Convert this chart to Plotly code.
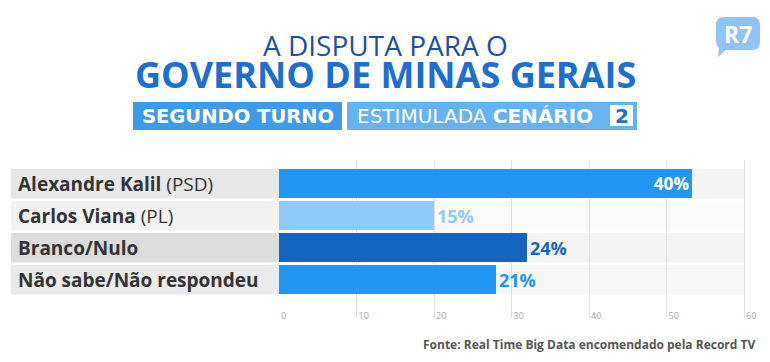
import plotly.graph_objects as go

categories = ["Alexandre Kalil", "Carlos Viana", "Branco/Nulo", "Não sabe/Não respondeu"]
parties = [" (PSD)", " (PL)", "", ""]
values = [40, 15, 24, 21]
bar_colors = ["#2196f3", "#90caf9", "#1565c0", "#2196f3"]
label_colors = ["#ffffff", "#90caf9", "#1565c0", "#2196f3"]
text_positions = ["inside", "outside", "outside", "outside"]
row_bg = ["#f5f5f5", "#fafafa", "#f4f4f4", "#f7f7f7"]
label_bg = ["#e7e7e7", "#f2f2f2", "#dcdcdc", "#eaeaea"]
axis_ticks = [0, 10, 20, 30, 40, 50, 60]

W, H = 770, 362
FONT = "Open Sans"
BADGE_FONT = "DejaVu Sans"

def px(x):
    return x / W

def py(y):
    return 1 - y / H

positions = list(range(len(categories)))

# axis geometry: 0 at 279px, 60 at 744px; domain extended to 762px so the last tick label shows
X0_PX, X60_PX, XEND_PX = 279, 744, 762
scale_max = 60 * (XEND_PX - X0_PX) / (X60_PX - X0_PX)
bar_max = 45 * (XEND_PX - X0_PX) / (X60_PX - X0_PX)

fig = go.Figure()
fig.add_trace(go.Bar(
    x=values, y=positions, orientation="h", xaxis="x2", yaxis="y",
    marker=dict(color=bar_colors, line=dict(width=0)),
    width=0.92,
    text=[f"{v}%" for v in values],
    textposition=text_positions,
    insidetextanchor="end",
    textfont=dict(color=label_colors, size=18, family=FONT, weight=700),
    cliponaxis=False,
    hoverinfo="skip",
))

shapes = []
annotations = []
for i, cat in enumerate(categories):
    shapes.append(dict(type="rect", xref="x", yref="y", x0=0, x1=60,
                       y0=i - 0.46, y1=i + 0.46, fillcolor=row_bg[i],
                       line=dict(width=0), layer="below"))
    shapes.append(dict(type="rect", xref="paper", yref="y", x0=px(11), x1=px(279),
                       y0=i - 0.46, y1=i + 0.46, fillcolor=label_bg[i],
                       line=dict(width=0), layer="below"))
    annotations.append(dict(xref="paper", yref="y", x=px(16), y=i,
                            text=f"<b>{cat}</b>{parties[i]}", showarrow=False,
                            xanchor="left", yanchor="middle",
                            font=dict(family=FONT, size=19, color="#333333")))

# Title
annotations.append(dict(xref="paper", yref="paper", x=px(385), y=py(45),
                        text="A DISPUTA PARA O", showarrow=False,
                        xanchor="center", yanchor="middle", height=26,
                        font=dict(family=FONT, size=28, color="#1d4fa3")))
annotations.append(dict(xref="paper", yref="paper", x=px(385), y=py(74),
                        text="<b>GOVERNO DE MINAS GERAIS</b>", showarrow=False,
                        xanchor="center", yanchor="middle", height=30,
                        font=dict(family=FONT, size=36, color="#1b6fd1")))

# Badges
shapes.append(dict(type="rect", xref="paper", yref="paper", x0=px(133), x1=px(342),
                   y0=py(130), y1=py(102), fillcolor="#3d9be9", line=dict(width=0)))
shapes.append(dict(type="rect", xref="paper", yref="paper", x0=px(347), x1=px(637),
                   y0=py(130), y1=py(102), fillcolor="#66b3f2", line=dict(width=0)))
shapes.append(dict(type="rect", xref="paper", yref="paper", x0=px(610), x1=px(633),
                   y0=py(126), y1=py(105), fillcolor="#ffffff", line=dict(width=0)))
annotations.append(dict(xref="paper", yref="paper", x=px(237.5), y=py(116),
                        text="<b>SEGUNDO TURNO</b>", showarrow=False,
                        xanchor="center", yanchor="middle",
                        font=dict(family=BADGE_FONT, size=19.5, color="#ffffff")))
annotations.append(dict(xref="paper", yref="paper", x=px(355), y=py(116),
                        text="ESTIMULADA <b>CENÁRIO</b>", showarrow=False,
                        xanchor="left", yanchor="middle",
                        font=dict(family=BADGE_FONT, size=20, color="#ffffff")))
annotations.append(dict(xref="paper", yref="paper", x=px(621.5), y=py(115.5),
                        text="<b>2</b>", showarrow=False,
                        xanchor="center", yanchor="middle",
                        font=dict(family=BADGE_FONT, size=20, color="#1b6fd1")))

# R7 logo
x0, x1, y0, y1 = 716, 760, 17, 50
r = 8
path = (f"M {px(x0 + r)},{py(y0)} L {px(x1 - r)},{py(y0)} "
        f"Q {px(x1)},{py(y0)} {px(x1)},{py(y0 + r)} "
        f"L {px(x1)},{py(y1 - r)} Q {px(x1)},{py(y1)} {px(x1 - r)},{py(y1)} "
        f"L {px(726)},{py(y1)} L {px(718)},{py(57)} L {px(719)},{py(y1 - 2)} "
        f"Q {px(x0)},{py(y1 - 4)} {px(x0)},{py(y1 - r - 2)} "
        f"L {px(x0)},{py(y0 + r)} Q {px(x0)},{py(y0)} {px(x0 + r)},{py(y0)} Z")
shapes.append(dict(type="path", xref="paper", yref="paper", path=path,
                   fillcolor="#8ec5f5", line=dict(width=0)))
annotations.append(dict(xref="paper", yref="paper", x=px(738), y=py(33.5),
                        text="<b>R7</b>", showarrow=False,
                        xanchor="center", yanchor="middle",
                        font=dict(family=FONT, size=23, color="#ffffff")))

# Source
annotations.append(dict(xref="paper", yref="paper", x=px(757), y=py(344),
                        text="<b>Fonte: Real Time Big Data encomendado pela Record TV</b>",
                        showarrow=False, xanchor="right", yanchor="middle",
                        font=dict(family=FONT, size=12, color="#555555")))

y_top_px, y_bot_px = 160, 318
pitch = 32
y_first = 183.7
r_top = (y_top_px - y_first) / pitch
r_bot = (y_bot_px - y_first) / pitch

fig.update_layout(
    width=W, height=H,
    margin=dict(l=0, r=0, t=0, b=0),
    paper_bgcolor="#ffffff",
    plot_bgcolor="rgba(0,0,0,0)",
    showlegend=False,
    bargap=0,
    xaxis=dict(domain=[px(X0_PX), px(XEND_PX)], range=[0, scale_max], tickvals=axis_ticks,
               showgrid=True, gridcolor="#e0e0e0", gridwidth=1, zeroline=False,
               showline=False, ticks="", ticklabelposition="inside right",
               ticklabelstandoff=-9, ticklabelshift=2,
               tickfont=dict(family=FONT, size=9, color="#a8a8a8"),
               anchor="y", fixedrange=True),
    xaxis2=dict(domain=[px(X0_PX), px(XEND_PX)], range=[0, bar_max], overlaying="x",
                visible=False, anchor="y", fixedrange=True),
    yaxis=dict(domain=[py(y_bot_px), py(y_top_px)], range=[r_bot, r_top],
               visible=False, fixedrange=True),
    shapes=shapes,
    annotations=annotations,
)

fig.write_html("out.html", config={"displayModeBar": False},
               post_script="document.body.style.margin='0';document.body.style.overflow='hidden';")
